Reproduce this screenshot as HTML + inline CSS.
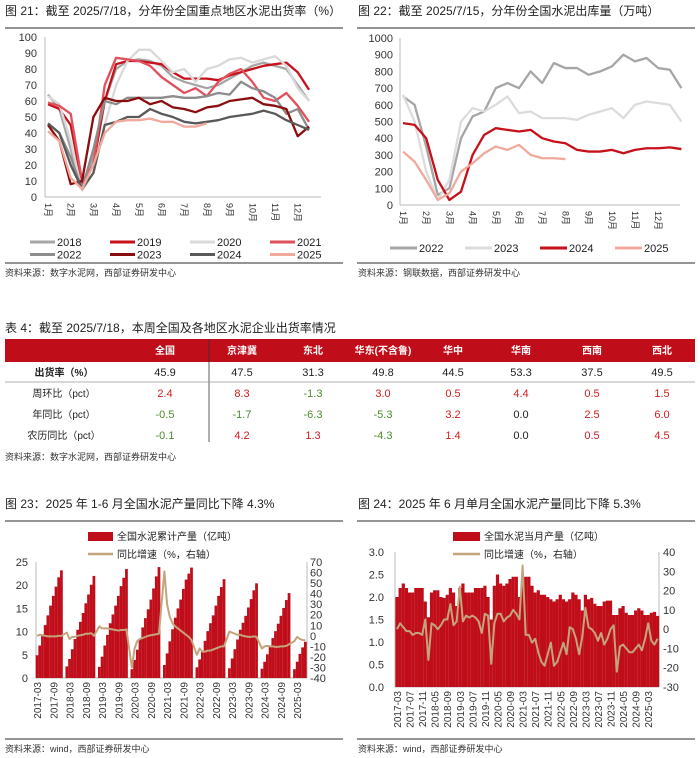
<!DOCTYPE html>
<html><head><meta charset="utf-8">
<style>
html,body{margin:0;padding:0;background:#fff;}
svg{display:block;font-family:"Liberation Sans","Noto Sans CJK SC",sans-serif;}
</style></head>
<body>
<svg id="root" width="700" height="758" viewBox="0 0 700 758" xmlns="http://www.w3.org/2000/svg">
<!-- Titles and separators -->
<text x="5" y="15" font-size="12" fill="#222">图 21：截至 2025/7/18，分年份全国重点地区水泥出货率（%）</text>
<line x1="5" y1="28" x2="343" y2="28" stroke="#555" stroke-width="1.2"/>
<line x1="5" y1="263" x2="343" y2="263" stroke="#555" stroke-width="1.2"/>
<text x="5" y="276" font-size="9" fill="#333">资料来源：数字水泥网，西部证券研发中心</text>

<text x="358" y="15" font-size="12" fill="#222">图 22：截至 2025/7/15，分年份全国水泥出库量（万吨）</text>
<line x1="357" y1="28" x2="695" y2="28" stroke="#555" stroke-width="1.2"/>
<line x1="357" y1="263" x2="695" y2="263" stroke="#555" stroke-width="1.2"/>
<text x="358" y="276" font-size="9" fill="#333">资料来源：钢联数据，西部证券研发中心</text>

<text x="5" y="332" font-size="12" fill="#222">表 4：截至 2025/7/18，本周全国及各地区水泥企业出货率情况</text>
<g id="table"></g>
<text x="5" y="460" font-size="9" fill="#333">资料来源：数字水泥网，西部证券研发中心</text>

<text x="5" y="508" font-size="12" fill="#222">图 23：2025 年 1-6 月全国水泥产量同比下降 4.3%</text>
<line x1="5" y1="521" x2="343" y2="521" stroke="#555" stroke-width="1.2"/>
<line x1="5" y1="739" x2="343" y2="739" stroke="#555" stroke-width="1.2"/>
<text x="5" y="752" font-size="9" fill="#333">资料来源：wind，西部证券研发中心</text>

<text x="358" y="508" font-size="12" fill="#222">图 24：2025 年 6 月单月全国水泥产量同比下降 5.3%</text>
<line x1="357" y1="521" x2="695" y2="521" stroke="#555" stroke-width="1.2"/>
<line x1="357" y1="739" x2="695" y2="739" stroke="#555" stroke-width="1.2"/>
<text x="358" y="752" font-size="9" fill="#333">资料来源：wind，西部证券研发中心</text>

<g id="c21"></g>
<g id="c22"></g>
<g id="c23"></g>
<g id="c24"></g>
</svg>
<script>
// ---------- Chart 21 data (semi-monthly points) ----------
const c21Years = ["2018","2019","2020","2021","2022","2023","2024","2025"];
const c21Colors = ["#a6a6a6","#c8101b","#d9d9d9","#e2505c","#8c8c8c","#8b0d10","#595959","#f0a99c"];
const c21_2018 = [64,55,30,5,25,60,80,85,86,85,82,75,72,70,68,70,74,78,82,84,82,80,70,60];
const c21_2019 = [58,55,45,8,20,60,83,85,85,84,83,78,74,74,74,73,76,78,80,82,83,84,78,67];
const c21_2020 = [63,58,35,4,15,45,70,85,92,92,85,78,80,72,80,82,86,87,84,86,88,82,68,60];
const c21_2021 = [59,57,52,10,20,70,87,86,85,82,75,70,65,68,63,72,77,80,72,62,60,65,57,47];
const c21_2022 = [46,40,25,5,30,60,58,62,62,62,62,63,62,62,63,65,64,72,68,66,62,52,55,42];
const c21_2023 = [45,35,8,10,50,62,60,60,62,58,60,56,55,53,56,57,60,61,62,58,57,55,38,44];
const c21_2024 = [46,40,20,5,15,45,47,50,50,55,52,50,47,46,47,48,50,51,52,54,52,48,45,42];
const c21_2025 = [41,35,12,5,20,40,47,48,48,49,47,47,44,44,46];
const c21Ticks = [0,10,20,30,40,50,60,70,80,90,100];
const monthLabels = ["1月","2月","3月","4月","5月","6月","7月","8月","9月","10月","11月","12月"];

// ---------- Chart 22 data ----------
const c22Years = ["2022","2023","2024","2025"];
const c22Colors = ["#a6a6a6","#dcdcdc","#c8101b","#f0a99c"];
const c22_2022 = [650,600,350,60,100,400,530,560,700,730,700,800,730,850,820,820,780,800,830,900,860,880,820,810,700];
const c22_2023 = [660,500,200,30,150,500,580,560,600,650,550,560,520,520,520,510,540,560,580,520,600,620,610,600,500];
const c22_2024 = [490,480,400,150,30,80,300,420,460,450,440,450,400,380,370,330,320,320,330,310,330,340,340,345,335];
const c22_2025 = [320,260,150,30,70,200,250,310,350,330,360,300,280,280,275];
const c22Ticks = [0,100,200,300,400,500,600,700,800,900,1000];

// ---------- Table data ----------
const tblHeaders = ["","全国","京津冀","东北","华东(不含鲁)","华中","华南","西南","西北"];
const tblRowLabels = ["出货率（%）","周环比（pct）","年同比（pct）","农历同比（pct）"];
const tblRate = [45.9,47.5,31.3,49.8,44.5,53.3,37.5,49.5];
const tblWoW = [2.4,8.3,-1.3,3.0,0.5,4.4,0.5,1.5];
const tblYoY = [-0.5,-1.7,-6.3,-5.3,3.2,0.0,2.5,6.0];
const tblLunar = [-0.1,4.2,1.3,-4.3,1.4,0.0,0.5,4.5];

// ---------- Chart 23 data (cumulative, Feb..Dec; 2017 from Mar) ----------
const c23Years = [2017,2018,2019,2020,2021,2022,2023,2024,2025];
const c23Cum = [
 [4.9,7.0,9.4,11.4,13.5,15.6,17.7,19.7,21.7,23.2],
 [2.5,4.1,6.2,8.4,10.4,12.1,14.0,16.1,18.0,20.1,22.0],
 [2.4,4.6,7.0,9.3,11.8,13.7,15.6,17.7,19.8,21.6,23.5],
 [1.9,3.9,6.1,8.5,10.9,12.9,14.8,16.9,19.3,21.9,23.9],
 [2.8,5.3,7.9,10.5,13.0,15.0,16.9,19.2,21.2,22.5,23.8],
 [2.3,4.0,5.9,8.0,10.1,11.8,13.5,15.6,17.7,19.6,21.3],
 [2.1,4.2,6.2,8.3,10.4,11.9,13.4,15.2,17.0,18.9,20.4],
 [2.0,3.5,5.1,6.9,8.6,10.1,11.7,13.4,15.1,16.8,18.3],
 [1.9,3.5,5.2,6.6,7.8]
];
const c23Growth = [
 [0,1,0.5,0,-0.5,-0.5,-0.5,-0.5,0,0],
 [3,-3,-1,-1,0,0.5,1,2,2,2.5,0],
 [9,7,7,7,6.5,6,5.5,5,5.5,5.5,6],
 [-30,-12,-5,-3,-2,-1,0,0.5,1,1.5,2],
 [61,30,18,12,9,7,5,3,1,-1,-4],
 [-18,-12,-15,-15,-14,-14,-13,-12,-11,-10,-10],
 [4,3,2,1,1,0,-0.5,-1,-1,-0.5,-1],
 [-12,-10,-9.5,-10,-10,-10.5,-10.5,-10,-10,-9.5,-8],
 [-5,-1,-3,-4,-4.3]
];
const c23LeftTicks = [0,5,10,15,20,25];
const c23RightTicks = [-40,-30,-20,-10,0,10,20,30,40,50,60,70];
const c23DateLabels = ["2017-03","2017-09","2018-03","2018-09","2019-03","2019-09","2020-03","2020-09","2021-03","2021-09","2022-03","2022-09","2023-03","2023-09","2024-03","2024-09","2025-03"];

// ---------- Chart 24 data (monthly, Mar..Dec; 2025 Mar..Jun) ----------
const c24Output = [
 [2.0,2.2,2.3,2.2,2.1,2.1,2.2,2.2,2.2,1.9],
 [1.55,2.1,2.15,2.15,2.0,1.98,2.05,2.2,2.1,1.8],
 [2.2,2.3,2.1,2.1,2.1,2.2,2.2,2.2,2.25,2.0],
 [1.5,2.25,2.5,2.3,2.25,2.3,2.4,2.45,2.45,2.0],
 [2.4,2.45,2.45,2.25,2.1,2.15,2.05,2.05,2.0,1.95],
 [1.9,1.95,2.05,1.95,1.9,1.95,2.1,2.05,1.95,1.7],
 [2.05,1.95,1.98,1.85,1.8,1.8,1.9,1.92,1.92,1.6],
 [1.6,1.75,1.8,1.65,1.6,1.6,1.7,1.75,1.7,1.6],
 [1.6,1.65,1.67,1.58]
];
const c24Growth = [
 [0,3,1,-1,-1,-3,-2,-2,-3,5],
 [-16,3,2,0,2,5,5,13,2,4],
 [22,4,7,6,7,6,4,-2,8,7],
 [-18,3,8,8,4,6,7,10,8,5],
 [33,-3,-3,-7,-5,-12,-17,-19,-13,-7],
 [-19,-17,-12,-7,-13,1,0,-5,-13,-4],
 [11,1,0,-2,-6,-2,-8,-5,0,2],
 [-22,-9,-8,-10,-12,-12,-10,-8,-11,-5],
 [3,-6,-8,-5]
];
const c24LeftTicks = [0,0.5,1.0,1.5,2.0,2.5,3.0];
const c24RightTicks = [-30,-20,-10,0,10,20,30,40];
const c24DateLabels = ["2017-03","2017-07","2017-11","2018-05","2018-09","2019-03","2019-07","2019-11","2020-05","2020-09","2021-03","2021-07","2021-11","2022-05","2022-09","2023-03","2023-07","2023-11","2024-05","2024-09","2025-03"];

const NS = "http://www.w3.org/2000/svg";
function mk(parent, tag, attrs, text){
  const e = document.createElementNS(NS, tag);
  for (const k in attrs) e.setAttribute(k, attrs[k]);
  if (text !== undefined) e.textContent = text;
  parent.appendChild(e);
  return e;
}
function lin(d0,d1,r0,r1){ return v => r0 + (v-d0)/(d1-d0)*(r1-r0); }

// ---------- Chart 21 ----------
(function(){
  const g = document.getElementById('c21');
  const y = lin(0,100,197,37);
  const x = i => 48 + i*(22.7/2);
  const ax = mk(g,'line',{x1:45,y1:37,x2:45,y2:197,stroke:'#bbb'});
   
  const bx = mk(g,'line',{x1:45,y1:197,x2:321,y2:197,stroke:'#bbb'});
   
  c21Ticks.forEach(t=>{
    const tx = mk(g,'text',{x:37,y:y(t)+4,'font-size':11,'text-anchor':'end',fill:'#333'},String(t));
     
  });
  monthLabels.forEach((m,i)=>{
    const xx = 48 + i*22.7;
    const tx = mk(g,'text',{x:0,y:0,'font-size':9,fill:'#333',transform:`translate(${xx-3},203) rotate(90)`},m);
     
  });
  const series = [c21_2018,c21_2019,c21_2020,c21_2021,c21_2022,c21_2023,c21_2024,c21_2025];
  series.forEach((s,k)=>{
    const p = mk(g,'polyline',{points:s.map((v,i)=>`${x(i)},${y(v)}`).join(' '),fill:'none',stroke:c21Colors[k],'stroke-width':2.3,'stroke-linejoin':'round'});
     
  });
  c21Years.forEach((yr,k)=>{
    const col = k%4, row = Math.floor(k/4);
    const lx = 30 + col*80, ly = 242 + row*12.5;
    const l = mk(g,'line',{x1:lx,y1:ly,x2:lx+25,y2:ly,stroke:c21Colors[k],'stroke-width':3});
     
    const t = mk(g,'text',{x:lx+27,y:ly+4,'font-size':11,fill:'#222'},yr);
     
  });
})();

// ---------- Chart 22 ----------
(function(){
  const g = document.getElementById('c22');
  const y = lin(0,1000,205,38);
  const x = i => 403 + i*(23.2/2);
  const ax = mk(g,'line',{x1:400,y1:38,x2:400,y2:205,stroke:'#bbb'});
   
  const bx = mk(g,'line',{x1:400,y1:205,x2:680,y2:205,stroke:'#bbb'});
   
  c22Ticks.forEach(t=>{
    const tx = mk(g,'text',{x:393,y:y(t)+4,'font-size':11,'text-anchor':'end',fill:'#333'},String(t));
     
  });
  monthLabels.forEach((m,i)=>{
    const xx = 403 + i*23.2;
    const tx = mk(g,'text',{x:0,y:0,'font-size':9,fill:'#333',transform:`translate(${xx-3},211) rotate(90)`},m);
     
  });
  const series = [c22_2022,c22_2023,c22_2024,c22_2025];
  series.forEach((s,k)=>{
    const p = mk(g,'polyline',{points:s.map((v,i)=>`${x(i)},${y(v)}`).join(' '),fill:'none',stroke:c22Colors[k],'stroke-width':2.3,'stroke-linejoin':'round'});
     
  });
  c22Years.forEach((yr,k)=>{
    const lx = 390 + k*75, ly = 248;
    const l = mk(g,'line',{x1:lx,y1:ly,x2:lx+27,y2:ly,stroke:c22Colors[k],'stroke-width':3});
     
    const t = mk(g,'text',{x:lx+29,y:ly+4,'font-size':11,fill:'#222'},yr);
     
  });
})();

// ---------- Table ----------
(function(){
  const g = document.getElementById('table');
  const cx = [64,165,242,313,383,453,521,592,662];
  const hdr = mk(g,'rect',{x:5,y:339,width:690,height:23,fill:'#c00d1a'});
   
  tblHeaders.forEach((h,i)=>{
    if(!h) return;
    const t = mk(g,'text',{x:cx[i],y:354,'font-size':10,'font-weight':'bold','text-anchor':'middle',fill:'#fff'},h);
     
  });
  const vl = mk(g,'line',{x1:209,y1:339,x2:209,y2:442,stroke:'#333','stroke-width':0.8});
   
  const hl = mk(g,'line',{x1:5,y1:382,x2:695,y2:382,stroke:'#999','stroke-width':0.8});
   
  const rows = [tblRate,tblWoW,tblYoY,tblLunar];
  const ry = [376,397,418,439];
  rows.forEach((r,ri)=>{
    const lab = mk(g,'text',{x:cx[0],y:ry[ri],'font-size':10,'text-anchor':'middle',fill:'#222','font-weight':ri===0?'bold':'normal'},tblRowLabels[ri]);
     
    r.forEach((v,ci)=>{
      let col = '#222';
      if(ri>0){ col = v>0 ? '#d01c1f' : (v<0 ? '#4e8a2e' : '#222'); }
      const t = mk(g,'text',{x:cx[ci+1],y:ry[ri],'font-size':11,'text-anchor':'middle',fill:col},v.toFixed(1));
       
    });
  });
})();

// ---------- Chart 23 ----------
(function(){
  const g = document.getElementById('c23');
  const yL = lin(0,25,678,562);
  const yR = lin(-40,70,678,562);
  const step = 2.71;
  const xm = m => 37 + m*step; // months since 2017-03
  const ax = mk(g,'line',{x1:36,y1:562,x2:36,y2:678,stroke:'#bbb'});
   
  const ax2 = mk(g,'line',{x1:307,y1:562,x2:307,y2:678,stroke:'#bbb'});
   
  const bx = mk(g,'line',{x1:36,y1:678,x2:307,y2:678,stroke:'#bbb'});
   
  c23LeftTicks.forEach(t=>{
    const tx = mk(g,'text',{x:28,y:yL(t)+4,'font-size':11,'text-anchor':'end',fill:'#333'},String(t));
     
  });
  c23RightTicks.forEach(t=>{
    const tx = mk(g,'text',{x:310,y:yR(t)+4,'font-size':11,fill:'#333'},String(t));
     
  });
  const pts = [];
  c23Cum.forEach((arr,yi)=>{
    const firstMonth = yi===0 ? 3 : 2;
    arr.forEach((v,j)=>{
      const month = firstMonth + j;
      const m = (c23Years[yi]-2017)*12 + (month-3);
      const b = mk(g,'rect',{x:xm(m)-1.35,y:yL(v),width:2.75,height:678-yL(v),fill:'#c00d1a'});
       
      pts.push(`${xm(m)},${yR(c23Growth[yi][j])}`);
    });
  });
  const ln = mk(g,'polyline',{points:pts.join(' '),fill:'none',stroke:'#c4a47c','stroke-width':2,'stroke-linejoin':'round'});
   
  c23DateLabels.forEach(lbl=>{
    const [yy,mm] = lbl.split('-').map(Number);
    const m = (yy-2017)*12 + (mm-3);
    const tx = mk(g,'text',{x:0,y:0,'font-size':10,'text-anchor':'end',fill:'#333',transform:`translate(${xm(m)+4},682) rotate(-90)`},lbl);
     
  });
  const lr = mk(g,'rect',{x:88,y:532,width:25,height:9,fill:'#c00d1a'});
   
  const lt = mk(g,'text',{x:117,y:540,'font-size':10,fill:'#222'},'全国水泥累计产量（亿吨）');
   
  const ll = mk(g,'line',{x1:88,y1:554,x2:113,y2:554,stroke:'#c4a47c','stroke-width':2.5});
   
  const lt2 = mk(g,'text',{x:117,y:558,'font-size':10,fill:'#222'},'同比增速（%，右轴）');
   
})();

// ---------- Chart 24 ----------
(function(){
  const g = document.getElementById('c24');
  const yL = lin(0,3,687,552);
  const yR = lin(-30,40,687,552);
  const step = 3.14;
  const xi = i => 397 + i*step;
  const ax = mk(g,'line',{x1:395,y1:552,x2:395,y2:687,stroke:'#bbb'});
   
  const ax2 = mk(g,'line',{x1:659,y1:552,x2:659,y2:687,stroke:'#bbb'});
   
  const bx = mk(g,'line',{x1:395,y1:687,x2:659,y2:687,stroke:'#bbb'});
   
  c24LeftTicks.forEach(t=>{
    const tx = mk(g,'text',{x:384,y:yL(t)+4,'font-size':11,'text-anchor':'end',fill:'#333'},t.toFixed(1));
     
  });
  c24RightTicks.forEach(t=>{
    const tx = mk(g,'text',{x:663,y:yR(t)+4,'font-size':11,fill:'#333'},String(t));
     
  });
  const pts = [];
  let idx = 0;
  const flatOut = [], flatG = [];
  c24Output.forEach((arr,yi)=>arr.forEach((v,j)=>{ flatOut.push(v); flatG.push(c24Growth[yi][j]); }));
  flatOut.forEach((v,i)=>{
    const b = mk(g,'rect',{x:xi(i)-1.6,y:yL(v),width:3.2,height:687-yL(v),fill:'#c00d1a'});
     
    pts.push(`${xi(i)},${yR(flatG[i])}`);
  });
  const ln = mk(g,'polyline',{points:pts.join(' '),fill:'none',stroke:'#c4a47c','stroke-width':2,'stroke-linejoin':'round'});
   
  c24DateLabels.forEach(lbl=>{
    const [yy,mm] = lbl.split('-').map(Number);
    const i = (yy-2017)*10 + (mm-3);
    const tx = mk(g,'text',{x:0,y:0,'font-size':10,'text-anchor':'end',fill:'#333',transform:`translate(${xi(i)+4},691) rotate(-90)`},lbl);
     
  });
  const lr = mk(g,'rect',{x:453,y:532,width:27,height:9,fill:'#c00d1a'});
   
  const lt = mk(g,'text',{x:484,y:540,'font-size':10,fill:'#222'},'全国水泥当月产量（亿吨）');
   
  const ll = mk(g,'line',{x1:453,y1:554,x2:480,y2:554,stroke:'#c4a47c','stroke-width':2.5});
   
  const lt2 = mk(g,'text',{x:484,y:558,'font-size':10,fill:'#222'},'同比增速（%，右轴）');
   
})();
</script>
</body></html>
